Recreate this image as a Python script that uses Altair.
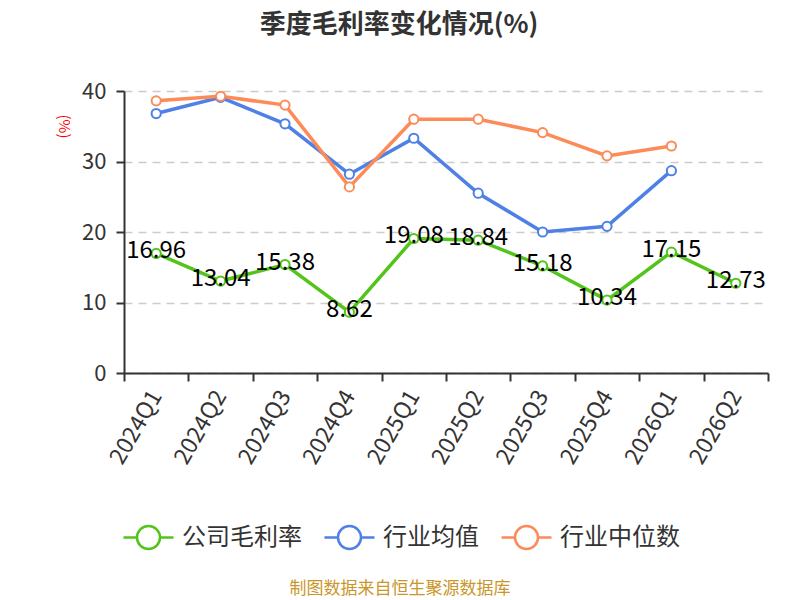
import altair as alt
import pandas as pd

quarters = ["2024Q1", "2024Q2", "2024Q3", "2024Q4", "2025Q1", "2025Q2",
            "2025Q3", "2025Q4", "2026Q1", "2026Q2"]
company = [16.96, 13.04, 15.38, 8.62, 19.08, 18.84, 15.18, 10.34, 17.15, 12.73]
ind_mean = [36.8, 39.1, 35.35, 28.2, 33.3, 25.5, 20.0, 20.8, 28.7, None]
ind_median = [38.6, 39.25, 38.0, 26.4, 36.0, 36.0, 34.1, 30.8, 32.2, None]

series_names = ["公司毛利率", "行业均值", "行业中位数"]
series_colors = ["#52c41a", "#4e80e6", "#fc8b58"]
title_text = "季度毛利率变化情况(%)"
source_text = "制图数据来自恒生聚源数据库"

rows = []
for name, vals in zip(series_names, [company, ind_mean, ind_median]):
    for q, v in zip(quarters, vals):
        if v is not None:
            rows.append({"quarter": q, "value": v, "series": name,
                         "label": f"{v:.2f}"})
df = pd.DataFrame(rows)

FONT = "Noto Sans CJK SC"

legend_path = ("M-1,0L-0.46,0M0.46,0L1,0M-0.46,0A0.46,0.46,0,1,1,0.46,0"
               "A0.46,0.46,0,1,1,-0.46,0Z")

x_enc = alt.X("quarter:N", sort=quarters,
              scale=alt.Scale(type="band", paddingInner=0, paddingOuter=0),
              axis=alt.Axis(title=None, labelAngle=-60, tickBand="extent",
                            labelFontSize=23, labelColor="#333",
                            domainColor="#333", domainWidth=2,
                            tickColor="#333", tickWidth=2, tickSize=8,
                            labelPadding=11, grid=False))
y_enc = alt.Y("value:Q", scale=alt.Scale(domain=[0, 40]),
              axis=alt.Axis(values=[0, 10, 20, 30, 40], title="(%)",
                            titleColor="red", titleFontSize=15,
                            titleFontWeight="normal", titleAngle=90,
                            titleX=-61, titleY=35, titleAlign="center",
                            titleBaseline="middle",
                            grid=True, gridDash=[8, 6], gridColor="#cccccc",
                            gridWidth=1.5, labelFontSize=22, labelColor="#333",
                            domainColor="#333", domainWidth=2,
                            tickColor="#333", tickWidth=2, tickSize=8,
                            labelPadding=10))
color_enc = alt.Color("series:N",
                      scale=alt.Scale(domain=series_names, range=series_colors),
                      legend=alt.Legend(title=None, orient="none",
                                        direction="horizontal",
                                        legendX=-2, legendY=420,
                                        symbolType=legend_path,
                                        symbolSize=2500,
                                        symbolStrokeWidth=2.5,
                                        symbolFillColor="white",
                                        labelFontSize=24, labelColor="#333",
                                        labelOffset=7, columnPadding=17))

base = alt.Chart(df).encode(x=x_enc, y=y_enc, color=color_enc)

lines = base.mark_line(strokeWidth=3.5)
points = base.mark_point(shape="circle", filled=False, fill="white",
                         fillOpacity=1, opacity=1, size=85, strokeWidth=2)
labels = alt.Chart(df[df["series"] == series_names[0]]).mark_text(
    fontSize=24, color="black", baseline="middle", dy=-2
).encode(x=x_enc, y=y_enc, text="label:N")

source = alt.Chart(pd.DataFrame({"t": [source_text]})).mark_text(
    fontSize=17, color="#c9962a", align="center", baseline="middle"
).encode(text="t:N", x=alt.value(276), y=alt.value(498))

chart = alt.layer(lines, points, labels, source).properties(
    width=644, height=282,
    title=alt.Title(title_text, fontSize=26, fontWeight="bold", color="#333",
                    anchor="middle", dx=-47, offset=42, font=FONT),
    autosize=alt.AutoSizeParams(type="none"),
    padding={"left": 116, "top": 83, "right": 24, "bottom": 227},
).configure(font=FONT).configure_view(stroke=None)

chart.save("out.html", embed_options={"renderer": "svg", "actions": False})
